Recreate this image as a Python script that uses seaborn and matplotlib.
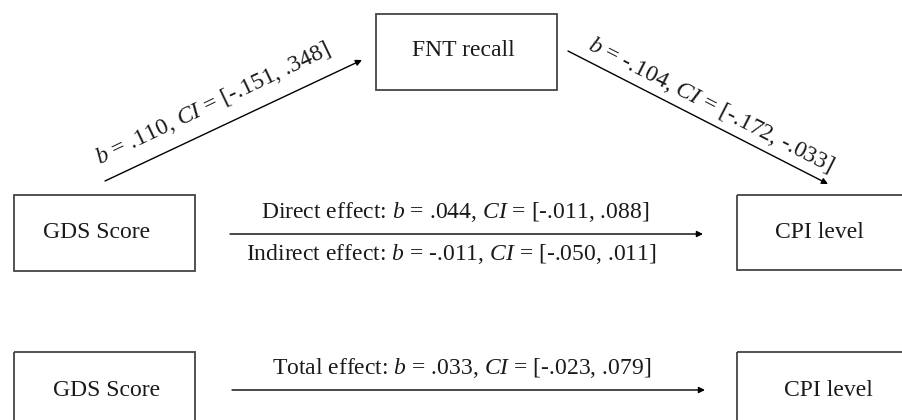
import matplotlib
matplotlib.use("Agg")
import matplotlib.pyplot as plt
from matplotlib.patches import Rectangle
import seaborn as sns

sns.set_theme(style="white")
plt.rcParams["font.family"] = ["Liberation Serif", "DejaVu Serif"]
plt.rcParams["mathtext.fontset"] = "custom"
plt.rcParams["mathtext.rm"] = "Liberation Serif"
plt.rcParams["mathtext.it"] = "Liberation Serif:italic"

# path estimates
PATHS = ["a", "b", "direct", "indirect", "total"]
B_VALUES = [".110", "-.104", ".044", "-.011", ".033"]
CI_LOW = ["-.151", "-.172", "-.011", "-.050", "-.023"]
CI_HIGH = [".348", "-.033", ".088", ".011", ".079"]
PREFIX = ["", "", "Direct effect: ", "Indirect effect: ", "Total effect: "]

NODES = ["GDS Score", "FNT recall", "CPI level"]

labels = {
    p: f"{pre}$b$ = {b}, $CI$ = [{lo}, {hi}]"
    for p, pre, b, lo, hi in zip(PATHS, PREFIX, B_VALUES, CI_LOW, CI_HIGH)
}

FS = 17
BOX_EC = "#444444"
TXT = "#1a1a1a"

fig = plt.figure(figsize=(9.02, 4.2), dpi=100)
ax = fig.add_axes([0, 0, 1, 1])
ax.set_xlim(0, 902)
ax.set_ylim(420, 0)
ax.axis("off")


def box(x0, y0, x1, y1, text, tx, ty):
    ax.add_patch(Rectangle((x0, y0), x1 - x0, y1 - y0, fill=False,
                           ec=BOX_EC, lw=1.3, clip_on=True))
    ax.text(tx, ty, text, ha="center", va="center", fontsize=FS, color=TXT)


def arrow(start, end):
    ax.annotate("", xy=end, xytext=start,
                arrowprops=dict(arrowstyle="-|>", color="black", lw=1.0,
                                mutation_scale=9, shrinkA=0, shrinkB=0))


# mediation model
box(14, 195, 195, 271, NODES[0], 97, 233)
box(376, 14, 557, 90, NODES[1], 463, 51)
box(737, 195, 920, 270, NODES[2], 819, 233)

arrow((105, 181), (362, 60))
ax.text(213, 104, labels["a"], rotation=25.5, rotation_mode="anchor",
        ha="center", va="center", fontsize=FS, color=TXT)

arrow((568, 51), (828, 184))
ax.text(711, 105, labels["b"], rotation=-27, rotation_mode="anchor",
        ha="center", va="center", fontsize=FS, color=TXT)

arrow((230, 234), (703, 234))
ax.text(455, 212, labels["direct"], ha="center", va="center", fontsize=FS, color=TXT)
ax.text(451, 254, labels["indirect"], ha="center", va="center", fontsize=FS, color=TXT)

# total effect model
box(14, 352, 195, 440, NODES[0], 107, 390)
box(737, 352, 920, 440, NODES[2], 828, 390)

arrow((232, 390), (705, 390))
ax.text(462, 368, labels["total"], ha="center", va="center", fontsize=FS, color=TXT)

fig.savefig("out.png", dpi=100)
